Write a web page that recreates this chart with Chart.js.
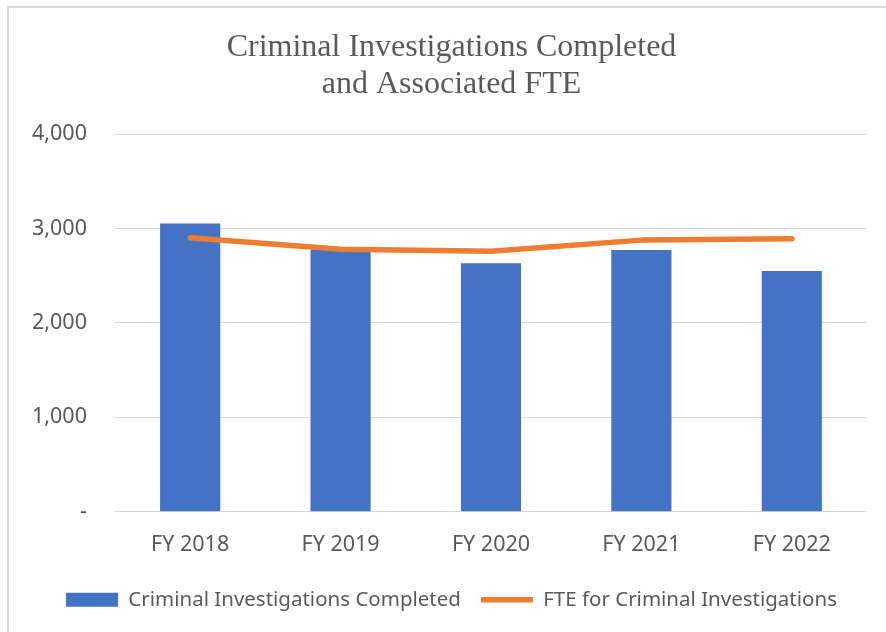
<!DOCTYPE html>
<html>
<head>
<meta charset="utf-8">
<script src="https://cdn.jsdelivr.net/npm/chart.js@4"></script>
<style>
  html, body { margin: 0; padding: 0; background: #fff; overflow: hidden; }
  #wrap { position: relative; width: 886px; height: 632px; }
  #frame { position: absolute; left: 7px; top: 6px; width: 886px; height: 632px; border: 2px solid #d9d9d9; box-sizing: border-box; pointer-events: none; }
  canvas { position: absolute; left: 0; top: 0; }
</style>
</head>
<body>
<div id="wrap">
  <canvas id="chart" width="886" height="632"></canvas>
  <div id="frame"></div>
</div>
<script>
// DATA
const years = ["FY 2018", "FY 2019", "FY 2020", "FY 2021", "FY 2022"];
const investigations = [3055, 2775, 2632, 2773, 2551];
const fte = [2903, 2780, 2759, 2878, 2892];
const yTicks = [0, 1000, 2000, 3000, 4000];

const labelColor = "#595959";
const sansFont = "'Noto Sans', 'Open Sans', sans-serif";

// title and legend sit a little right of the plot centre in the original
const shiftBoxes = {
    id: "shiftBoxes",
    afterLayout(chart) {
        const dx = 16;
        [chart.titleBlock, chart.legend].forEach(b => {
            if (b) { b.left += dx; b.right += dx; }
        });
    }
};

// CHART
const ctx = document.getElementById("chart").getContext("2d");
new Chart(ctx, {
    data: {
        labels: years,
        datasets: [
            {
                type: "line",
                label: "FTE for Criminal Investigations",
                data: fte,
                borderColor: "#ed7d31",
                backgroundColor: "#ed7d31",
                borderWidth: 5.5,
                borderCapStyle: "round",
                borderJoinStyle: "round",
                pointRadius: 0,
                pointStyle: "line",
                tension: 0,
                order: 1
            },
            {
                type: "bar",
                label: "Criminal Investigations Completed",
                data: investigations,
                backgroundColor: "#4472c4",
                borderWidth: 0,
                pointStyle: "rect",
                categoryPercentage: 1,
                barPercentage: 0.4,
                order: 2
            }
        ]
    },
    options: {
        responsive: false,
        animation: false,
        layout: { padding: { left: 4, right: 19, top: 14, bottom: 12 } },
        plugins: {
            title: {
                display: true,
                text: ["Criminal Investigations Completed", "and Associated FTE"],
                font: { family: "'Liberation Serif', 'Times New Roman', serif", size: 32, weight: "normal", lineHeight: 1.16 },
                color: labelColor,
                padding: { top: 15, bottom: 31 }
            },
            legend: {
                position: "bottom",
                reverse: true,
                labels: {
                    usePointStyle: true,
                    pointStyleWidth: 52,
                    boxHeight: 14,
                    color: labelColor,
                    font: { family: sansFont, size: 20.5 },
                    padding: 20
                }
            },
            tooltip: { enabled: false }
        },
        scales: {
            x: {
                grid: { display: false },
                border: { display: false },
                ticks: { color: labelColor, font: { family: sansFont, size: 21.5 }, padding: 12 }
            },
            y: {
                min: yTicks[0],
                max: yTicks[yTicks.length - 1],
                afterBuildTicks: axis => { axis.ticks = yTicks.map(v => ({ value: v })); },
                grid: { color: "#d9d9d9", lineWidth: 1, drawTicks: false },
                border: { display: false },
                ticks: {
                    color: labelColor,
                    font: { family: sansFont, size: 21.5 },
                    padding: 28,
                    callback: v => v === 0 ? "-" : v.toLocaleString("en-US")
                }
            }
        }
    },
    plugins: [shiftBoxes]
});
</script>
</body>
</html>
